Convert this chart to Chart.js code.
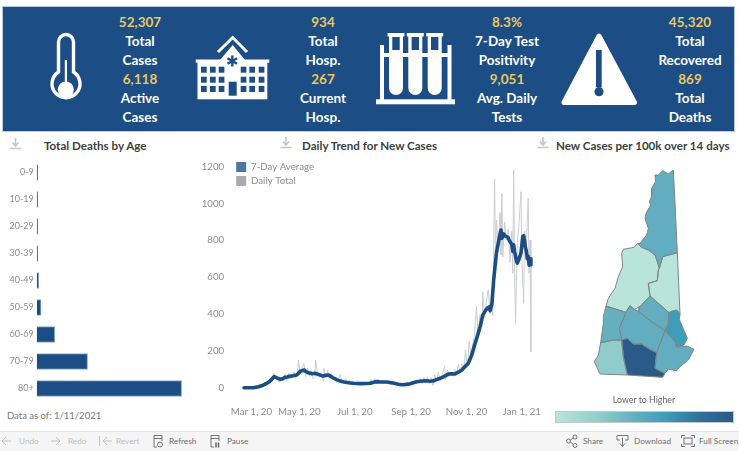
<!DOCTYPE html>
<html>
<head>
<meta charset="utf-8">
<title>NH COVID-19 summary</title>
<script src="https://cdn.jsdelivr.net/npm/chart.js@4/dist/chart.umd.min.js"></script>
<style>
  html, body { margin: 0; padding: 0; background: #fff; overflow: hidden; }
  body { position: relative; width: 739px; height: 451px; font-family: Lato, sans-serif; }
  canvas { position: absolute; display: block; }
  #banner { position: absolute; left: 3px; top: 7px; width: 731px; height: 124px; background: #1c4e85; box-shadow: 0 0 0 1px #b9cbe0; }
  .kpi { position: absolute; top: 12.5px; width: 120px; text-align: center; color: #fff; font-weight: 700; font-size: 13.5px; line-height: 19px; }
  .kpi b { color: #e9c85f; display: block; font-weight: 700; }
  .kpi span { display: block; }
  .title { position: absolute; top: 137px; font-size: 11.6px; font-weight: 700; color: #404040; white-space: nowrap; line-height: 17px; }
  #asof { position: absolute; left: 7px; top: 408px; font-size: 9.5px; color: #787878; line-height: 16px; }
  #scaleText { position: absolute; left: 584px; width: 120px; top: 393px; text-align: center; font-size: 8.8px; color: #666; line-height: 14px; }
  #ramp { position: absolute; left: 555px; top: 411px; width: 177px; height: 10px; border: 1px solid #c6c9c9;
    background: linear-gradient(to right, #b9e4d9 0%, #8fcccb 25%, #62aec0 45%, #3e9db8 62%, #2f6f9a 82%, #2b5a88 100%); }
  #toolbar { position: absolute; left: 0; top: 431px; width: 739px; height: 20px; background: #f5f5f5; border-top: 1px solid #dfe5ea; box-sizing: border-box; }
  .tool { position: absolute; top: 434px; font-size: 8.2px; line-height: 14px; color: #6e6e6e; white-space: nowrap; }
  .tool.off { color: #bdbdbd; }
  #icons { position: absolute; left: 0; top: 0; }
</style>
</head>
<body>
<div id="banner"></div>
<div class="kpi" style="left:80px"><b>52,307</b><span>Total</span><span>Cases</span><b>6,118</b><span>Active</span><span>Cases</span></div>
<div class="kpi" style="left:263px"><b>934</b><span>Total</span><span>Hosp.</span><b>267</b><span>Current</span><span>Hosp.</span></div>
<div class="kpi" style="left:447px"><b>8.3%</b><span>7-Day Test</span><span>Positivity</span><b>9,051</b><span>Avg. Daily</span><span>Tests</span></div>
<div class="kpi" style="left:630px"><b>45,320</b><span>Total</span><span>Recovered</span><b>869</b><span>Total</span><span>Deaths</span></div>

<div class="title" style="left:44px">Total Deaths by Age</div>
<div class="title" style="left:302px">Daily Trend for New Cases</div>
<div class="title" style="left:556px">New Cases per 100k over 14 days</div>

<canvas id="ageChart" width="190" height="243" style="left:0;top:159px"></canvas>
<canvas id="trendChart" width="350" height="267" style="left:200px;top:158px"></canvas>
<canvas id="mapChart" width="199" height="270" style="left:540px;top:160px"></canvas>

<div id="asof">Data as of: 1/11/2021</div>
<div id="scaleText">Lower to Higher</div>
<div id="ramp"></div>

<div id="toolbar"></div>
<div class="tool off" style="left:19px">Undo</div>
<div class="tool off" style="left:68px">Redo</div>
<div class="tool off" style="left:116px">Revert</div>
<div class="tool" style="left:169px">Refresh</div>
<div class="tool" style="left:227px">Pause</div>
<div class="tool" style="left:583px">Share</div>
<div class="tool" style="left:634px">Download</div>
<div class="tool" style="left:699px">Full Screen</div>

<svg id="icons" width="739" height="451" xmlns="http://www.w3.org/2000/svg">
  <!-- termometro -->
  <path d="M58.5 72 V42 a7.5 7.5 0 0 1 15 0 V72 a14 14 0 1 1 -15 0 Z" fill="none" stroke="#fff" stroke-width="3.4"/>
  <circle cx="65.8" cy="89.5" r="8" fill="#fff"/>
  <rect x="64.8" y="60" width="2.2" height="24" fill="#fff"/>
  <!-- ospedale -->
  <g fill="#fff">
    <path d="M218 52 L232.7 37.5 L247 52" fill="none" stroke="#fff" stroke-width="3"/>
    <path d="M220 60 L232.7 45 L245 60 Z"/>
    <rect x="195.7" y="59.5" width="73.6" height="3.2"/>
    <rect x="197.5" y="62" width="69.8" height="37.3"/>
  </g>
  <g id="windows" fill="#1c4e85">
    <rect x="228.7" y="81.7" width="8" height="14"/>
    <path d="M232.3 55.5 V66.5 M227.5 58.2 L237.1 63.8 M237.1 58.2 L227.5 63.8" stroke="#1c4e85" stroke-width="2.4"/>
  </g>
  <!-- provette -->
  <g fill="#fff">
    <rect x="376" y="99.3" width="79" height="5"/>
    <rect x="380" y="45" width="4" height="55"/>
    <rect x="447.5" y="45" width="4" height="55"/>
    <rect x="380" y="53" width="71" height="4"/>
    <path d="M389 34 H403 V88 a7 7 0 0 1 -14 0 Z"/>
    <path d="M408.3 34 H422.3 V88 a7 7 0 0 1 -14 0 Z"/>
    <path d="M427.7 34 H441.7 V88 a7 7 0 0 1 -14 0 Z"/>
    <rect x="387.5" y="33" width="17" height="3.4"/>
    <rect x="406.8" y="33" width="17" height="3.4"/>
    <rect x="426.2" y="33" width="17" height="3.4"/>
  </g>
  <g fill="#1c4e85">
    <rect x="392.3" y="37" width="7.4" height="13"/>
    <rect x="411.6" y="37" width="7.4" height="13"/>
    <rect x="431" y="37" width="7.4" height="13"/>
  </g>
  <!-- attenzione -->
  <path d="M599 36 L634.5 102.5 L564 102.5 Z" fill="#fff" stroke="#fff" stroke-width="5" stroke-linejoin="round"/>
  <rect x="596" y="50" width="5.7" height="37.3" fill="#1c4e85"/>
  <circle cx="599" cy="91.7" r="4.6" fill="#1c4e85"/>
  <!-- download -->
  <g id="dl" fill="none" stroke="#c6c6c6" stroke-width="1.6">
    <path d="M15.5 138 V145 M12.5 142.5 L15.5 146 L18.5 142.5 M10 148.5 H21"/>
    <path d="M286 137 V144 M283 141.5 L286 145 L289 141.5 M280.5 147.5 H291.5"/>
    <path d="M543 137 V144 M540 141.5 L543 145 L546 141.5 M537.5 147.5 H548.5"/>
  </g>
  <!-- barra strumenti -->
  <g fill="none" stroke="#bdbdbd" stroke-width="0.9">
    <path d="M2 441 H11 M6 437 L2 441 L6 445"/>
    <path d="M51 441 H60 M56 437 L60 441 L56 445"/>
    <path d="M99.5 436 V446 M103 441 H112 M107 437 L103 441 L107 445"/>
  </g>
  <g fill="none" stroke="#666" stroke-width="0.9">
    <path d="M154 435.5 H162 V441 M154 435.5 V447 H157 M154 438.5 H162"/>
    <circle cx="160" cy="444.5" r="2.5"/>
    <path d="M211 435.5 H219 V441 M211 435.5 V447 H214 M211 438.5 H219"/>
    <path d="M216 442.5 V447.5 M218.5 442.5 V447.5" stroke-width="1.5"/>
    <circle cx="568.5" cy="441" r="2"/><circle cx="575" cy="437" r="2"/><circle cx="575" cy="445.5" r="2"/>
    <path d="M570.3 440 L573.2 438 M570.3 442 L573.2 444.4"/>
    <path d="M620 440 H617 V435.5 H628 V440 H625 M622.5 437.5 V446 M620 443.5 L622.5 446.5 L625 443.5"/>
    <path d="M681.5 438 V435.5 H685 M691 435.5 H694.5 V438 M694.5 444 V446.5 H691 M685 446.5 H681.5 V444"/>
    <rect x="684" y="438" width="8" height="6"/>
  </g>
</svg>

<script>
// decessi per fascia d'eta
const ageGroups = ["0-9", "10-19", "20-29", "30-39", "40-49", "50-59", "60-69", "70-79", "80+"];
const ageDeaths = [1, 1, 2, 2, 8, 17, 71, 200, 570];

// tick dell'asse del tempo: giorni contati dal 1 marzo 2020
const tickDays = [0, 61, 122, 184, 245, 306];
const tickLabels = ["Mar 1, 20", "May 1, 20", "Jul 1, 20", "Sep 1, 20", "Nov 1, 20", "Jan 1, 21"];
const caseTicks = [0, 200, 400, 600, 800, 1000, 1200];

// media a 7 giorni
const avgDays = [0, 10, 16, 20, 23, 26, 28, 31, 33, 35, 37, 40, 43, 45, 48, 50, 54, 58, 60, 62, 64, 66, 68, 71, 75, 78, 82, 87, 90, 93, 96, 98, 102, 106, 110, 115, 120, 128, 134, 139, 143, 146, 150, 157, 164, 170, 174, 179, 183, 188, 192, 197, 201, 205, 208, 212, 216, 220, 225, 229, 232, 236, 240, 244, 247, 251, 254, 257, 260, 263, 266, 268, 270, 271, 273, 275, 278, 281, 283, 284, 286, 287, 289, 291, 292, 294, 295, 296, 297, 298, 299, 300, 301, 303, 305, 307, 308, 309, 310, 311, 312, 313, 314, 315, 316];
const avgValues = [0, 0, 5, 12, 18, 27, 33, 48, 60, 56, 52, 45, 50, 56, 58, 62, 65, 69, 78, 90, 92, 96, 88, 81, 76, 78, 72, 63, 67, 69, 60, 54, 44, 36, 31, 27, 24, 22, 23, 24, 30, 33, 31, 31, 25, 19, 16, 18, 22, 29, 34, 36, 38, 35, 36, 44, 51, 60, 74, 76, 74, 84, 96, 118, 132, 180, 232, 280, 331, 394, 420, 432, 438, 418, 454, 586, 730, 810, 856, 811, 835, 825, 820, 815, 800, 785, 775, 740, 775, 739, 715, 690, 676, 700, 730, 820, 825, 793, 760, 740, 700, 712, 665, 700, 667];

// totale giornaliero
const dailyDays = [0, 3, 6, 9, 11, 13, 15, 17, 19, 21, 23, 25, 27, 29, 31, 33, 35, 37, 39, 41, 43, 45, 47, 49, 51, 53, 55, 57, 59, 60, 62, 64, 66, 68, 70, 72, 74, 76, 78, 79, 81, 83, 85, 87, 88, 90, 92, 94, 96, 98, 100, 102, 104, 106, 108, 110, 112, 114, 116, 118, 120, 122, 124, 126, 128, 130, 132, 134, 136, 138, 140, 142, 144, 146, 148, 150, 152, 154, 156, 158, 160, 162, 164, 166, 168, 170, 172, 174, 176, 178, 180, 182, 184, 186, 188, 190, 192, 194, 196, 198, 200, 202, 204, 206, 208, 210, 212, 214, 216, 218, 221, 222, 224, 226, 228, 230, 232, 234, 236, 238, 240, 242, 244, 246, 248, 250, 252, 254, 256, 258, 260, 262, 263, 265, 267, 269, 271, 273, 274, 276, 277, 278, 280, 282, 283, 284, 285, 287, 289, 291, 293, 295, 296, 297, 298, 299, 301, 303, 305, 306, 308, 309, 311, 313, 314, 315, 316];
const dailyValues = [0, 1, 2, 2, 4, 3, 6, 12, 8, 20, 28, 16, 38, 45, 30, 78, 52, 40, 28, 55, 38, 72, 40, 78, 48, 62, 85, 50, 90, 150, 72, 110, 130, 60, 105, 62, 95, 48, 60, 150, 70, 55, 75, 40, 105, 55, 95, 45, 80, 42, 50, 30, 48, 72, 28, 38, 50, 22, 42, 18, 35, 25, 15, 32, 20, 28, 14, 30, 18, 35, 45, 22, 48, 20, 45, 28, 40, 22, 36, 26, 38, 15, 35, 20, 30, 10, 22, 12, 25, 15, 32, 12, 28, 35, 18, 42, 25, 50, 20, 55, 28, 58, 22, 55, 12, 70, 35, 85, 40, 65, 117, 45, 95, 60, 85, 62, 100, 70, 125, 80, 130, 100, 205, 110, 250, 170, 240, 290, 440, 270, 400, 330, 520, 380, 470, 530, 400, 540, 390, 1130, 700, 910, 760, 950, 720, 1055, 710, 900, 800, 860, 680, 850, 620, 1180, 640, 350, 790, 900, 1063, 700, 458, 850, 780, 1027, 620, 800, 195];

const countyNames = ["Coos", "Grafton", "Carroll", "Belknap", "Strafford", "Merrimack", "Sullivan", "Cheshire", "Hillsborough", "Rockingham"];
const countyColors = ["#62aec0", "#b9e4d9", "#b9e4d9", "#62aec0", "#3e9db8", "#62aec0", "#66afbf", "#8fcccb", "#2b5a88", "#62aec0"];
const countyShapes = [
  [[400, 30], [385, 42], [368, 32], [355, 45], [345, 45], [347, 65], [335, 85], [335, 108], [328, 125], [332, 135], [318, 160], [315, 175], [325, 205], [320, 225], [300, 250], [293, 250], [305, 262], [325, 270], [345, 285], [352, 305], [358, 325], [368, 290], [412, 278], [405, 130]],
  [[293, 250], [282, 262], [250, 268], [245, 280], [248, 320], [235, 350], [225, 385], [205, 415], [198, 438], [258, 457], [270, 437], [283, 448], [300, 440], [330, 408], [325, 370], [352, 362], [355, 330], [358, 325], [352, 305], [345, 285], [325, 270], [305, 262]],
  [[368, 290], [412, 278], [420, 462], [410, 450], [392, 455], [387, 458], [330, 408], [325, 370], [352, 362], [355, 330], [358, 325]],
  [[330, 408], [300, 440], [297, 455], [325, 478], [375, 512], [385, 490], [387, 458]],
  [[387, 458], [392, 455], [410, 450], [420, 462], [418, 478], [442, 535], [432, 555], [410, 562], [405, 545], [375, 512], [385, 490]],
  [[270, 437], [283, 448], [297, 455], [325, 478], [375, 512], [350, 578], [330, 568], [305, 552], [280, 552], [262, 535], [245, 540], [238, 505], [258, 457]],
  [[198, 438], [258, 457], [238, 505], [245, 540], [222, 540], [182, 548], [190, 490], [190, 470]],
  [[182, 548], [222, 540], [245, 540], [250, 590], [262, 645], [180, 642], [163, 605], [175, 585]],
  [[245, 540], [262, 535], [280, 552], [305, 552], [330, 568], [350, 578], [345, 625], [375, 640], [368, 652], [262, 645], [250, 590]],
  [[375, 512], [405, 545], [410, 562], [440, 558], [462, 568], [445, 600], [420, 620], [410, 632], [385, 628], [375, 640], [345, 625], [350, 578]]
];

const labelGrey = "#8c8c8c";

// lo riempimento delle contee passa dai punti gia scalati da Chart.js
const countyFill = {
  id: "countyFill",
  beforeDatasetsDraw(chart) {
    const ctx = chart.ctx;
    chart.data.datasets.forEach((ds, i) => {
      const pts = chart.getDatasetMeta(i).data;
      ctx.beginPath();
      pts.forEach((p, j) => (j ? ctx.lineTo(p.x, p.y) : ctx.moveTo(p.x, p.y)));
      ctx.closePath();
      ctx.fillStyle = ds.backgroundColor;
      ctx.fill();
    });
  }
};

// niente margini automatici: l'area del grafico deve finire dove dico io
function fixY(width) {
  return (scale) => {
    scale.width = width;
    scale.paddingTop = 0;
    scale.paddingBottom = 0;
  };
}

new Chart(document.getElementById("ageChart"), {
  type: "bar",
  data: {
    labels: ageGroups,
    datasets: [{
      data: ageDeaths,
      backgroundColor: "#1c4e85",
      borderColor: "#8fa9c9",
      borderWidth: 1,
      barThickness: 16,
      minBarLength: 1
    }]
  },
  options: {
    indexAxis: "y",
    responsive: false,
    animation: false,
    layout: { padding: 0 },
    plugins: { legend: { display: false }, tooltip: { enabled: false } },
    scales: {
      x: { display: false, min: 0, max: 603 },
      y: {
        grid: { display: false, drawTicks: false },
        border: { display: false },
        afterFit: fixY(36.7),
        ticks: { color: labelGrey, padding: 3, font: { family: "Lato", size: 9 } }
      }
    }
  }
});

new Chart(document.getElementById("trendChart"), {
  type: "scatter",
  data: {
    datasets: [
      {
        label: "7-Day Average",
        data: avgDays.map((d, i) => ({ x: d, y: avgValues[i] })),
        showLine: true,
        borderColor: "#1c4e85",
        backgroundColor: "#4e75a5",
        borderWidth: 3.6,
        pointRadius: 0,
        borderJoinStyle: "round",
        borderCapStyle: "round"
      },
      {
        label: "Daily Total",
        data: dailyDays.map((d, i) => ({ x: d, y: dailyValues[i] })),
        showLine: true,
        borderColor: "#cbcdd0",
        backgroundColor: "#a9abb0",
        borderWidth: 1,
        pointRadius: 0
      }
    ]
  },
  options: {
    responsive: false,
    animation: false,
    layout: { padding: 0 },
    plugins: {
      tooltip: { enabled: false },
      legend: {
        position: "chartArea",
        align: "start",
        labels: {
          boxWidth: 10,
          boxHeight: 10,
          padding: 4,
          color: labelGrey,
          font: { family: "Lato", size: 9.7 },
          // il riquadro della legenda non ha bordo
          generateLabels: (chart) => Chart.defaults.plugins.legend.labels.generateLabels(chart).map((l) => ({ ...l, lineWidth: 0 }))
        }
      }
    },
    scales: {
      x: {
        type: "linear",
        min: -13,
        max: 337,
        grid: { display: false, drawTicks: false },
        border: { display: false },
        afterBuildTicks: (scale) => { scale.ticks = tickDays.map((d) => ({ value: d })); },
        afterFit: (scale) => { scale.height = 23; scale.paddingLeft = 0; scale.paddingRight = 0; },
        ticks: {
          color: labelGrey,
          padding: 4,
          autoSkip: false,
          maxRotation: 0,
          font: { family: "Lato", size: 9.7 },
          // la prima etichetta nell'originale e spostata a destra
          callback: (v) => (v === 0 ? "\u00a0\u00a0\u00a0\u00a0\u00a0\u00a0" : "") + tickLabels[tickDays.indexOf(v)]
        }
      },
      y: {
        min: -77.6,
        max: 1246.5,
        grid: { display: false, drawTicks: false },
        border: { display: false },
        afterBuildTicks: (scale) => { scale.ticks = caseTicks.map((v) => ({ value: v })); },
        afterFit: fixY(32.2),
        ticks: {
          color: labelGrey,
          padding: 8,
          font: { family: "Lato", size: 9.7 },
          callback: (v) => String(v)
        }
      }
    }
  }
});

new Chart(document.getElementById("mapChart"), {
  type: "scatter",
  data: {
    datasets: countyShapes.map((shape, i) => ({
      label: countyNames[i],
      data: shape.concat([shape[0]]).map((p) => ({ x: p[0], y: p[1] })),
      showLine: true,
      backgroundColor: countyColors[i],
      borderColor: "#7d8588",
      borderWidth: 1,
      pointRadius: 0
    }))
  },
  options: {
    responsive: false,
    animation: false,
    layout: { padding: 0 },
    plugins: { legend: { display: false }, tooltip: { enabled: false } },
    scales: {
      x: { display: false, min: 0, max: 597 },
      y: { display: false, min: 0, max: 810, reverse: true }
    }
  },
  plugins: [countyFill]
});

// finestre dell'ospedale
const windowColumns = [201, 210, 218.7, 240.7, 249.3, 258.7];
const windowRows = [66.7, 76.7, 86];
const windowGroup = document.getElementById("windows");
windowRows.forEach((y) => windowColumns.forEach((x) => {
  const r = document.createElementNS("http://www.w3.org/2000/svg", "rect");
  r.setAttribute("x", x);
  r.setAttribute("y", y);
  r.setAttribute("width", 5.7);
  r.setAttribute("height", 6);
  windowGroup.appendChild(r);
}));
</script>
</body>
</html>
